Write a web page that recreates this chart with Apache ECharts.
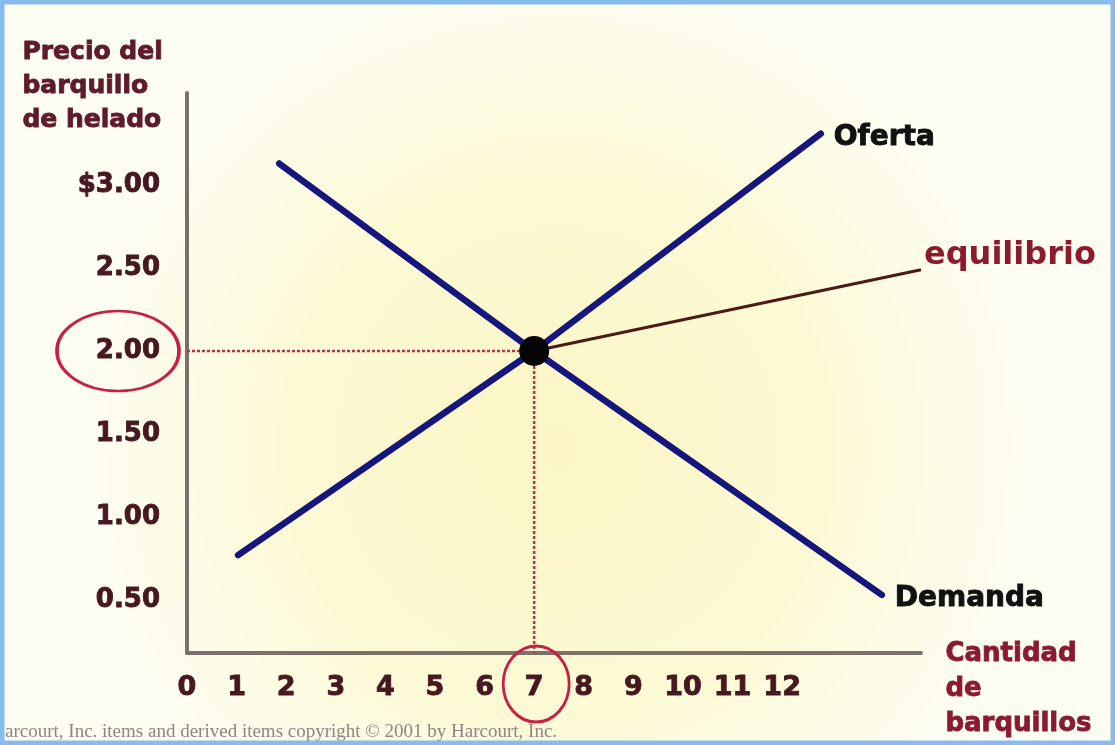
<!DOCTYPE html>
<html>
<head>
<meta charset="utf-8">
<script src="https://cdn.jsdelivr.net/npm/echarts@6/dist/echarts.min.js"></script>
<style>
  html, body { margin: 0; padding: 0; background: #ffffff; }
  #chart { width: 1115px; height: 745px; }
</style>
</head>
<body>
<div id="chart"></div>
<script>
// Quantity ticks (barquillos) and price ticks (dólares)
const quantityTicks = [0, 1, 2, 3, 4, 5, 6, 7, 8, 9, 10, 11, 12];
const priceTicks = [0.5, 1.0, 1.5, 2.0, 2.5, 3.0];

// Supply curve (Oferta): quantity / price pairs
const supplyQty = [1.03, 7, 12.78];
const supplyPrice = [0.77, 2.0, 3.31];

// Demand curve (Demanda): quantity / price pairs
const demandQty = [1.86, 7, 14.01];
const demandPrice = [3.13, 2.0, 0.53];

// Equilibrium point and the end of its pointer line
const equilibrium = [7, 2.0];
const pointerEnd = [14.8, 2.49];

// Axis ranges
const qtyMin = 0, qtyMax = 14.8;
const priceMin = 0.18, priceMax = 3.555;

const FONT = 'DejaVu Sans';
const pairs = (xs, ys) => xs.map((x, i) => [x, ys[i]]);

// heavy bold text helper (slight outline in the fill colour)
const heavy = (size, color) => ({
  fontFamily: FONT, fontSize: size, fontWeight: 'bold', color: color,
  textBorderColor: color, textBorderWidth: 0.9
});

const chart = echarts.init(document.getElementById('chart'));

const option = {
  animation: false,
  backgroundColor: {
    type: 'radial', x: 0.5, y: 0.6, r: 0.62,
    colorStops: [
      { offset: 0, color: '#fbf6c4' },
      { offset: 0.6, color: '#fcfad6' },
      { offset: 1, color: '#fdfdf1' }
    ]
  },
  grid: { left: 187, right: 194, top: 93, bottom: 92 },
  xAxis: {
    type: 'value',
    min: qtyMin, max: qtyMax,
    axisLine: { show: true, lineStyle: { color: '#7b706a', width: 4 } },
    axisTick: { show: false },
    splitLine: { show: false },
    axisLabel: Object.assign({ customValues: quantityTicks, margin: 21 }, heavy(27, '#45191f'))
  },
  yAxis: {
    type: 'value',
    min: priceMin, max: priceMax,
    axisLine: { show: true, lineStyle: { color: '#7b706a', width: 4 } },
    axisTick: { show: false },
    splitLine: { show: false },
    axisLabel: Object.assign({
      customValues: priceTicks,
      margin: 27,
      formatter: v => (Math.abs(v - 3) < 1e-9 ? '$' : '') + v.toFixed(2)
    }, heavy(26, '#45191f'))
  },
  series: [
    {
      // dotted guide: price level at equilibrium
      type: 'line', symbol: 'none', silent: true,
      data: [[qtyMin, equilibrium[1]], equilibrium],
      lineStyle: { color: '#b8334a', width: 2.5, type: [3, 2] }
    },
    {
      // dotted guide: quantity at equilibrium
      type: 'line', symbol: 'none', silent: true,
      data: [equilibrium, [equilibrium[0], priceMin]],
      lineStyle: { color: '#b8334a', width: 2.5, type: [3, 2] }
    },
    {
      name: 'Oferta',
      type: 'line', symbol: 'none', silent: true,
      data: pairs(supplyQty, supplyPrice),
      lineStyle: { color: '#17167c', width: 6.5, cap: 'round' },
      endLabel: Object.assign({ show: true, formatter: 'Oferta', distance: 13, offset: [0, 4] },
        heavy(28, '#111111')),
      z: 3
    },
    {
      name: 'Demanda',
      type: 'line', symbol: 'none', silent: true,
      data: pairs(demandQty, demandPrice),
      lineStyle: { color: '#17167c', width: 6.5, cap: 'round' },
      endLabel: Object.assign({ show: true, formatter: 'Demanda', distance: 13, offset: [0, 4] },
        heavy(28, '#111111')),
      z: 3
    },
    {
      // pointer from the equilibrium to its caption
      type: 'line', symbol: 'none', silent: true,
      data: [equilibrium, pointerEnd],
      lineStyle: { color: '#4a1a14', width: 3 },
      endLabel: {
        show: true, formatter: 'equilibrio', distance: 3, offset: [0, -14],
        fontFamily: FONT, fontSize: 32, fontWeight: 'bold', color: '#8a1a2c'
      },
      clip: false,
      z: 4
    },
    {
      // equilibrium dot
      type: 'scatter', silent: true,
      data: [equilibrium],
      symbolSize: 30,
      itemStyle: { color: '#050505', opacity: 1 },
      z: 5
    },
    {
      // red ring around the equilibrium price label
      type: 'scatter', silent: true, clip: false,
      data: [[qtyMin, equilibrium[1]]],
      symbolSize: [122, 80],
      symbolOffset: [-69, 0],
      itemStyle: { color: 'rgba(0,0,0,0)', borderColor: '#c81f45', borderWidth: 3, opacity: 1 },
      z: 6
    },
    {
      // red ring around the equilibrium quantity label
      type: 'scatter', silent: true, clip: false,
      data: [[equilibrium[0], priceMin]],
      symbolSize: [66, 76],
      symbolOffset: [2, 31],
      itemStyle: { color: 'rgba(0,0,0,0)', borderColor: '#c81f45', borderWidth: 3, opacity: 1 },
      z: 6
    }
  ],
  graphic: [
    {
      type: 'text', left: 22, top: 35,
      style: {
        text: 'Precio del\nbarquillo\nde helado',
        font: 'bold 25px "DejaVu Sans"', lineHeight: 34,
        fill: '#5e1c2a', stroke: '#5e1c2a', lineWidth: 0.9
      }
    },
    {
      type: 'text', left: 945, top: 637,
      style: {
        text: 'Cantidad\nde\nbarquillos',
        font: 'bold 26px "DejaVu Sans"', lineHeight: 35,
        fill: '#8a1a30', stroke: '#8a1a30', lineWidth: 0.8
      }
    },
    {
      type: 'text', left: 5, top: 723,
      style: {
        text: 'arcourt, Inc. items and derived items copyright \u00a9 2001 by Harcourt, Inc.',
        font: '19px "Liberation Serif"',
        fill: '#8d8484'
      }
    },
    {
      // light blue frame
      type: 'rect', silent: true, z: 100,
      shape: { x: 0, y: 0, width: 1115, height: 745 },
      style: { fill: 'none', stroke: '#86bcef', lineWidth: 9 }
    }
  ]
};

chart.setOption(option);
</script>
</body>
</html>
